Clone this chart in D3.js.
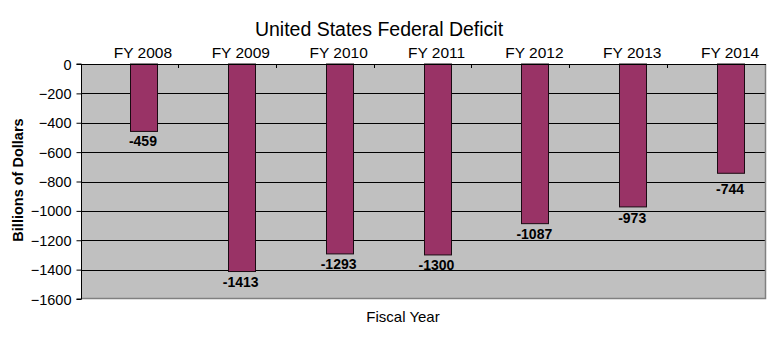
<!DOCTYPE html>
<html>
<head>
<meta charset="utf-8">
<script src="https://cdn.jsdelivr.net/npm/d3@7"></script>
<style>
  html, body { margin: 0; padding: 0; background: #ffffff; }
  svg { display: block; font-family: "Liberation Sans", Arial, sans-serif; }
</style>
</head>
<body>
<svg id="chart" width="770" height="338"></svg>
<script>
// Fiscal years and annual federal deficit (billions of dollars)
const years = ["FY 2008", "FY 2009", "FY 2010", "FY 2011", "FY 2012", "FY 2013", "FY 2014"];
const deficits = [-459, -1413, -1293, -1300, -1087, -973, -744];
const yTicks = [0, -200, -400, -600, -800, -1000, -1200, -1400, -1600];
// two slots per year; the deficit occupies the second slot
const slots = ["empty", "deficit"];

const svg = d3.select("#chart");
const plot = { left: 81, right: 766, top: 64, bottom: 299 };

const x = d3.scaleBand().domain(years).range([plot.left, plot.right]).paddingInner(0).paddingOuter(0);
const xs = d3.scaleBand().domain(slots).range([0, x.bandwidth()]).paddingInner(0).paddingOuter(0.75);
const y = d3.scaleLinear().domain([0, -1600]).range([plot.top, plot.bottom]);

const gridValues = yTicks.filter(v => v !== 0 && v !== -1600);

// plot background
svg.append("rect")
  .attr("x", plot.left).attr("y", plot.top)
  .attr("width", plot.right - plot.left).attr("height", plot.bottom - plot.top)
  .attr("fill", "#c0c0c0");

// horizontal grid lines
svg.append("g")
  .selectAll("line")
  .data(gridValues)
  .join("line")
  .attr("x1", plot.left).attr("x2", plot.right)
  .attr("y1", d => Math.round(y(d)) + 0.5).attr("y2", d => Math.round(y(d)) + 0.5)
  .attr("stroke", "#000").attr("stroke-width", 1);

// right and bottom frame
svg.append("path")
  .attr("d", `M${plot.right - 0.5},${plot.top}V${plot.bottom - 0.5}H${plot.left}`)
  .attr("fill", "none").attr("stroke", "#808080").attr("stroke-width", 1.5);

// bars
svg.append("g")
  .selectAll("rect")
  .data(deficits)
  .join("rect")
  .attr("x", (d, i) => Math.round(x(years[i]) + xs("deficit")) + 0.5)
  .attr("y", y(0))
  .attr("width", Math.round(xs.bandwidth()) - 1)
  .attr("height", d => y(d) - y(0))
  .attr("fill", "#993366")
  .attr("stroke", "#1a0a12").attr("stroke-width", 1);

// value labels under bar ends; a label whose top would be cut by a grid line
// is moved down beneath that line
function labelBaseline(v) {
  const end = y(v);
  const hit = gridValues.map(g => y(g)).find(gy => gy > end && gy - end < 10);
  return hit !== undefined ? hit + 12 : end + 15;
}
svg.append("g")
  .selectAll("text")
  .data(deficits)
  .join("text")
  .attr("x", (d, i) => x(years[i]) + xs("deficit") + xs.bandwidth() / 2 - 1)
  .attr("y", d => labelBaseline(d))
  .attr("text-anchor", "middle")
  .attr("font-size", "14px").attr("font-weight", "bold")
  .attr("fill", "#000")
  .text(d => d);

// left value axis
const yAxis = d3.axisLeft(y).tickValues(yTicks).tickSize(5).tickPadding(5).tickFormat(d3.format("d"));
const gy = svg.append("g").attr("transform", `translate(${plot.left + 0.5},0)`).call(yAxis);
gy.select(".domain").attr("stroke", "#000").attr("d", `M-5,${plot.top}H0V${plot.bottom}H-5`);
gy.selectAll(".tick line").attr("stroke", "#000");
gy.selectAll(".tick text")
  .attr("font-size", "14.5px").attr("fill", "#000")
  .attr("font-family", '"Liberation Sans", Arial, sans-serif')
  .attr("dy", "0.35em");

// top category axis
const xAxis = d3.axisTop(x).tickSize(0).tickPadding(0);
const gx = svg.append("g").attr("transform", `translate(0,${plot.top + 0.5})`).call(xAxis);
gx.select(".domain").attr("stroke", "#000").attr("d", `M${plot.left},0H${plot.right}`);
gx.selectAll(".tick text")
  .attr("x", 13)
  .attr("y", -7)
  .attr("font-size", "15.5px").attr("fill", "#000")
  .attr("font-family", '"Liberation Sans", Arial, sans-serif');

// category boundary marks pointing into the plot
svg.append("g")
  .selectAll("line")
  .data(years.slice(1))
  .join("line")
  .attr("x1", d => Math.round(x(d)) - 0.5).attr("x2", d => Math.round(x(d)) - 0.5)
  .attr("y1", plot.top).attr("y2", plot.top + 4)
  .attr("stroke", "#000");

// title
svg.append("text")
  .attr("x", 379).attr("y", 36)
  .attr("text-anchor", "middle")
  .attr("font-size", "19.5px")
  .attr("fill", "#000")
  .text("United States Federal Deficit");

// axis titles
svg.append("text")
  .attr("transform", "translate(23,180) rotate(-90)")
  .attr("text-anchor", "middle")
  .attr("font-size", "14.5px").attr("font-weight", "bold")
  .attr("fill", "#000")
  .text("Billions of Dollars");

svg.append("text")
  .attr("x", 403).attr("y", 322)
  .attr("text-anchor", "middle")
  .attr("font-size", "15px")
  .attr("fill", "#000")
  .text("Fiscal Year");
</script>
</body>
</html>
